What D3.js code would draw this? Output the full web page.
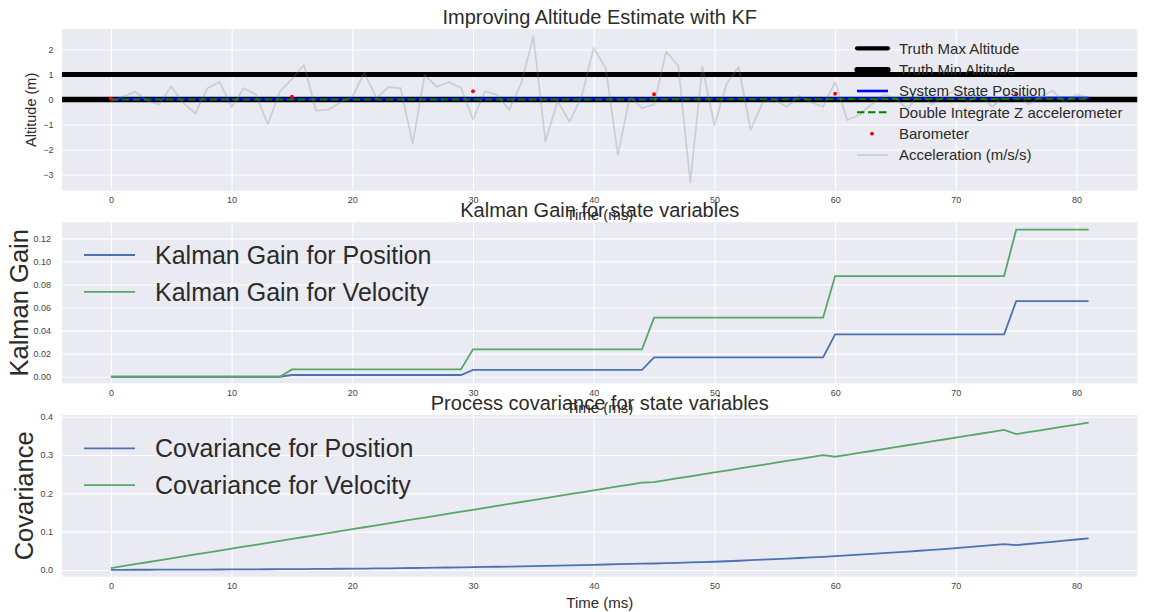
<!DOCTYPE html>
<html>
<head>
<meta charset="utf-8">
<script src="https://cdn.jsdelivr.net/npm/d3@7"></script>
<style>
  body { margin: 0; background: #ffffff; }
  svg { display: block; }
  text { font-family: "Liberation Sans", Arial, sans-serif; }
</style>
</head>
<body>
<svg id="chart" width="1152" height="612"></svg>
<script>
// ---- data ---------------------------------------------------------------
const timeMs = d3.range(0, 82);

const acceleration = [
  -0.1, 0.11, 0.31, -0.05, -0.2, 0.52, -0.14, -0.56, 0.45, 0.7,
  -0.3, 0.45, 0.2, -0.99, 0.31, 0.82, 1.38, -0.45, -0.41, -0.12,
  0.11, 1.07, 0.05, 0.5, 0.45, -1.75, 0.98, 0.51, 0.69, 0.47,
  -0.8, 0.33, 0.18, -0.42, 0.66, 2.53, -1.69, -0.06, -0.89, 0.11,
  2.06, 1.25, -2.22, 0.13, -0.35, -0.2, 1.91, 1.36, -3.32, 1.31,
  -1.04, 0.62, 1.31, -1.22, -0.12, -0.02, -0.29, 0.15, -0.11, -0.29,
  0.7, -0.82, -0.62, -0.2, 0.2, 0.05, -0.4, 0.3, -0.2, 0.1,
  0.4, -0.1, 0.2, -0.3, 0.15, 0.3, -0.2, 0.1, 0.35, -0.1,
  0.2, 0.05
];

const statePosition = [
  0.02, 0.02, 0.02, 0.02, 0.02, 0.02, 0.02, 0.02, 0.02, 0.02,
  0.02, 0.02, 0.02, 0.02, 0.02, 0.021, 0.021, 0.021, 0.021, 0.021,
  0.021, 0.021, 0.021, 0.021, 0.021, 0.021, 0.021, 0.021, 0.021, 0.021,
  0.024, 0.024, 0.024, 0.024, 0.024, 0.024, 0.024, 0.024, 0.024, 0.024,
  0.024, 0.024, 0.024, 0.024, 0.024, 0.028, 0.028, 0.028, 0.028, 0.028,
  0.028, 0.028, 0.028, 0.028, 0.028, 0.028, 0.028, 0.028, 0.028, 0.028,
  0.04, 0.04, 0.04, 0.04, 0.04, 0.04, 0.04, 0.04, 0.04, 0.04,
  0.04, 0.04, 0.04, 0.04, 0.04, 0.06, 0.06, 0.06, 0.06, 0.06,
  0.06, 0.06
];

const doubleIntegrated = [
  0.0, 0.0, 0.0, 0.0, 0.0, 0.0, 0.0, 0.0, 0.0, 0.0,
  0.0, 0.0, 0.0, 0.0, 0.0, 0.0, 0.0, 0.0, 0.0, 0.0,
  0.0, 0.0, 0.0, 0.0, 0.0, 0.0, 0.0, 0.0, 0.0, 0.0,
  0.0, 0.0, 0.0, 0.0, 0.0, 0.0, 0.0, 0.0, 0.0, 0.0,
  0.0, 0.0, 0.0, 0.0, 0.0, 0.01, 0.01, 0.01, 0.01, 0.01,
  0.01, 0.01, 0.01, 0.01, 0.01, 0.01, 0.01, 0.01, 0.01, 0.01,
  0.02, 0.02, 0.02, 0.02, 0.02, 0.02, 0.02, 0.02, 0.02, 0.02,
  0.02, 0.02, 0.02, 0.02, 0.02, 0.03, 0.03, 0.03, 0.03, 0.03,
  0.03, 0.03
];

const baroTimes = [0, 15, 30, 45, 60, 75];
const baroAltitude = [0.03, 0.11, 0.33, 0.21, 0.23, 0.21];

const truthMaxAltitude = 1;
const truthMinAltitude = 0;

const gainPosition = [
  0, 0, 0, 0, 0, 0, 0, 0, 0, 0,
  0, 0, 0, 0, 0, 0.0015, 0.0015, 0.0015, 0.0015, 0.0015,
  0.0015, 0.0015, 0.0015, 0.0015, 0.0015, 0.0015, 0.0015, 0.0015, 0.0015, 0.0015,
  0.006, 0.006, 0.006, 0.006, 0.006, 0.006, 0.006, 0.006, 0.006, 0.006,
  0.006, 0.006, 0.006, 0.006, 0.006, 0.0168, 0.0168, 0.0168, 0.0168, 0.0168,
  0.0168, 0.0168, 0.0168, 0.0168, 0.0168, 0.0168, 0.0168, 0.0168, 0.0168, 0.0168,
  0.0368, 0.0368, 0.0368, 0.0368, 0.0368, 0.0368, 0.0368, 0.0368, 0.0368, 0.0368,
  0.0368, 0.0368, 0.0368, 0.0368, 0.0368, 0.0655, 0.0655, 0.0655, 0.0655, 0.0655,
  0.0655, 0.0655
];

const gainVelocity = [
  0, 0, 0, 0, 0, 0, 0, 0, 0, 0,
  0, 0, 0, 0, 0, 0.0063, 0.0063, 0.0063, 0.0063, 0.0063,
  0.0063, 0.0063, 0.0063, 0.0063, 0.0063, 0.0063, 0.0063, 0.0063, 0.0063, 0.0063,
  0.0237, 0.0237, 0.0237, 0.0237, 0.0237, 0.0237, 0.0237, 0.0237, 0.0237, 0.0237,
  0.0237, 0.0237, 0.0237, 0.0237, 0.0237, 0.0512, 0.0512, 0.0512, 0.0512, 0.0512,
  0.0512, 0.0512, 0.0512, 0.0512, 0.0512, 0.0512, 0.0512, 0.0512, 0.0512, 0.0512,
  0.0873, 0.0873, 0.0873, 0.0873, 0.0873, 0.0873, 0.0873, 0.0873, 0.0873, 0.0873,
  0.0873, 0.0873, 0.0873, 0.0873, 0.0873, 0.1275, 0.1275, 0.1275, 0.1275, 0.1275,
  0.1275, 0.1275
];

const covPosition = [
  0.0005, 0.0005, 0.0006, 0.0007, 0.0008, 0.0009, 0.001, 0.0011, 0.0012, 0.0013,
  0.0015, 0.0016, 0.0018, 0.002, 0.0022, 0.0023, 0.0025, 0.0027, 0.003, 0.0032,
  0.0035, 0.0038, 0.0041, 0.0044, 0.0048, 0.0052, 0.0056, 0.006, 0.0065, 0.007,
  0.0074, 0.0079, 0.0084, 0.009, 0.0096, 0.0102, 0.0108, 0.0115, 0.0122, 0.0129,
  0.0136, 0.0143, 0.0151, 0.0159, 0.0167, 0.017, 0.0179, 0.0188, 0.0197, 0.0206,
  0.0215, 0.0228, 0.0241, 0.0255, 0.0269, 0.0283, 0.0298, 0.0313, 0.0328, 0.0344,
  0.036, 0.038, 0.04, 0.042, 0.044, 0.046, 0.0481, 0.0502, 0.0524, 0.0546,
  0.0569, 0.0596, 0.0623, 0.065, 0.0677, 0.065, 0.0678, 0.0707, 0.0736, 0.0766,
  0.0796, 0.0826
];

const covVelocity = [
  0.005, 0.0101, 0.0151, 0.0202, 0.0253, 0.0304, 0.0354, 0.0405, 0.0456, 0.0506,
  0.0557, 0.0608, 0.0658, 0.0709, 0.076, 0.0811, 0.0861, 0.0912, 0.0963, 0.1013,
  0.1064, 0.1115, 0.1165, 0.1216, 0.1267, 0.1318, 0.1368, 0.1419, 0.147, 0.152,
  0.1571, 0.1622, 0.1672, 0.1723, 0.1774, 0.1825, 0.1875, 0.1926, 0.1977, 0.2027,
  0.2078, 0.2129, 0.2179, 0.223, 0.2281, 0.2295, 0.2345, 0.2395, 0.2445, 0.2495,
  0.2545, 0.2595, 0.2645, 0.2695, 0.2745, 0.2795, 0.2845, 0.2895, 0.2945, 0.2995,
  0.2955, 0.3005, 0.3055, 0.3105, 0.3155, 0.3205, 0.3255, 0.3305, 0.3355, 0.3405,
  0.3455, 0.3505, 0.3555, 0.3605, 0.3655, 0.3545, 0.3595, 0.3645, 0.3695, 0.3745,
  0.3795, 0.3845
];

const timeTicks = [0, 10, 20, 30, 40, 50, 60, 70, 80];
const altitudeTicks = [-3, -2, -1, 0, 1, 2];
const gainTicks = [0, 0.02, 0.04, 0.06, 0.08, 0.10, 0.12];
const covTicks = [0, 0.1, 0.2, 0.3, 0.4];

// ---- layout -------------------------------------------------------------
const svg = d3.select("#chart");
const plotLeft = 62, plotRight = 1137.5;
const BG = "#EAEAF2";
const TICK_COLOR = "#444";
const TEXT_COLOR = "#2b2b2b";
const SEA_BLUE = "#4C72B0";
const SEA_GREEN = "#55A868";

const x = d3.scaleLinear().domain([-4.05, 85.05]).range([plotLeft, plotRight]);

function makePanel(opts) {
  const y = d3.scaleLinear().domain(opts.domain).range([opts.bottom, opts.top]);
  const g = svg.append("g");
  g.append("rect")
    .attr("x", plotLeft).attr("y", opts.top)
    .attr("width", plotRight - plotLeft).attr("height", opts.bottom - opts.top)
    .attr("fill", BG);

  // horizontal grid + y tick labels
  const yAxis = g.append("g")
    .attr("transform", `translate(${plotLeft},0)`)
    .call(d3.axisLeft(y).tickValues(opts.ticks).tickFormat(opts.format)
      .tickSize(-(plotRight - plotLeft)).tickPadding(opts.yPad));
  // vertical grid + x tick labels
  const xAxis = g.append("g")
    .attr("transform", `translate(0,${opts.bottom})`)
    .call(d3.axisBottom(x).tickValues(timeTicks).tickFormat(d3.format("d"))
      .tickSize(-(opts.bottom - opts.top)).tickPadding(6.2));
  [yAxis, xAxis].forEach(a => {
    a.select(".domain").remove();
    a.selectAll(".tick line").attr("stroke", "#ffffff").attr("stroke-width", 1.1);
    a.selectAll(".tick text").attr("fill", TICK_COLOR)
      .attr("font-size", 9)
      .attr("font-family", '"Liberation Sans", Arial, sans-serif');
  });

  // title
  svg.append("text")
    .attr("x", (plotLeft + plotRight) / 2).attr("y", opts.titleY)
    .attr("text-anchor", "middle").attr("font-size", 20)
    .attr("fill", TEXT_COLOR).text(opts.title);
  // x label
  svg.append("text")
    .attr("x", (plotLeft + plotRight) / 2).attr("y", opts.xLabelY)
    .attr("text-anchor", "middle").attr("font-size", 15)
    .attr("fill", TEXT_COLOR).text("Time (ms)");
  // y label
  svg.append("text")
    .attr("transform", `translate(${opts.yLabelX},${(opts.top + opts.bottom) / 2}) rotate(-90)`)
    .attr("text-anchor", "middle").attr("font-size", opts.yLabelSize)
    .attr("fill", TEXT_COLOR).text(opts.yLabel);

  const clip = "clip" + Math.round(opts.top);
  svg.append("clipPath").attr("id", clip).append("rect")
    .attr("x", plotLeft).attr("y", opts.top)
    .attr("width", plotRight - plotLeft).attr("height", opts.bottom - opts.top);
  const marks = svg.append("g").attr("clip-path", `url(#${clip})`);
  return { y, marks };
}

function series(values) {
  return timeMs.map((t, i) => [t, values[i]]);
}

// ---- panel 1 : altitude -------------------------------------------------
const p1 = makePanel({
  top: 29, bottom: 190.7, domain: [-3.65, 2.82], ticks: altitudeTicks,
  format: d => d < 0 ? "\u2212" + Math.abs(d) : String(d), yPad: 8.5,
  title: "Improving Altitude Estimate with KF", titleY: 23.5,
  xLabelY: 219.5, yLabel: "Altitude (m)", yLabelX: 36, yLabelSize: 14.5
});
{
  const y = p1.y, m = p1.marks;
  const line = d3.line().x(d => x(d[0])).y(d => y(d[1]));
  m.append("line").attr("x1", plotLeft).attr("x2", plotRight)
    .attr("y1", y(truthMaxAltitude)).attr("y2", y(truthMaxAltitude))
    .attr("stroke", "#000").attr("stroke-width", 4.8);
  m.append("line").attr("x1", plotLeft).attr("x2", plotRight)
    .attr("y1", y(truthMinAltitude)).attr("y2", y(truthMinAltitude))
    .attr("stroke", "#000").attr("stroke-width", 5.5);
  m.append("path").datum(series(statePosition)).attr("d", line)
    .attr("fill", "none").attr("stroke", "#0000ff").attr("stroke-width", 2.6);
  m.append("path").datum(series(doubleIntegrated)).attr("d", line)
    .attr("fill", "none").attr("stroke", "#008000").attr("stroke-width", 2)
    .attr("stroke-dasharray", "7.4,3.6");
  m.selectAll("circle.baro").data(baroTimes).join("circle")
    .attr("cx", d => x(d)).attr("cy", (d, i) => y(baroAltitude[i]))
    .attr("r", 1.9).attr("fill", "#ff0000");
  m.append("path").datum(series(acceleration)).attr("d", line)
    .attr("fill", "none").attr("stroke", "#808080").attr("stroke-opacity", 0.27)
    .attr("stroke-width", 1.8).attr("stroke-linejoin", "round");

  // legend
  const lg = svg.append("g");
  const items = [
    { label: "Truth Max Altitude", kind: "line", color: "#000", w: 4.2 },
    { label: "Truth Min Altitude", kind: "line", color: "#000", w: 5.2 },
    { label: "System State Position", kind: "line", color: "#0000ff", w: 2.6 },
    { label: "Double Integrate Z accelerometer", kind: "dash", color: "#008000", w: 2 },
    { label: "Barometer", kind: "dot", color: "#ff0000" },
    { label: "Acceleration (m/s/s)", kind: "line", color: "rgba(128,128,128,0.27)", w: 1.8 }
  ];
  items.forEach((it, i) => {
    const cy = 48.3 + i * 21.35;
    if (it.kind === "dot") {
      lg.append("circle").attr("cx", 872).attr("cy", cy).attr("r", 1.9).attr("fill", it.color);
    } else {
      lg.append("line").attr("x1", 857).attr("x2", 888).attr("y1", cy).attr("y2", cy)
        .attr("stroke", it.color).attr("stroke-width", it.w)
        .attr("stroke-linecap", it.w > 4 ? "round" : "butt")
        .attr("stroke-dasharray", it.kind === "dash" ? "7.4,3.6" : null);
    }
    lg.append("text").attr("x", 899).attr("y", cy + 5.3)
      .attr("font-size", 15).attr("fill", TEXT_COLOR).text(it.label);
  });
}

// ---- panel 2 : Kalman gain ---------------------------------------------
const p2 = makePanel({
  top: 222.3, bottom: 383.3, domain: [-0.0057, 0.1339], ticks: gainTicks,
  format: d3.format(".2f"), yPad: 11,
  title: "Kalman Gain for state variables", titleY: 217,
  xLabelY: 412.5, yLabel: "Kalman Gain", yLabelX: 27.5, yLabelSize: 25.5
});
// ---- panel 3 : covariance ----------------------------------------------
const p3 = makePanel({
  top: 415, bottom: 576.7, domain: [-0.0175, 0.4044], ticks: covTicks,
  format: d3.format(".1f"), yPad: 9,
  title: "Process covariance for state variables", titleY: 410,
  xLabelY: 608, yLabel: "Covariance", yLabelX: 33, yLabelSize: 25.5
});

function drawPair(panel, a, b, labels, legendY) {
  const line = d3.line().x(d => x(d[0])).y(d => panel.y(d[1]));
  panel.marks.append("path").datum(series(a)).attr("d", line)
    .attr("fill", "none").attr("stroke", SEA_BLUE).attr("stroke-width", 1.8);
  panel.marks.append("path").datum(series(b)).attr("d", line)
    .attr("fill", "none").attr("stroke", SEA_GREEN).attr("stroke-width", 1.8);
  const lg = svg.append("g");
  [SEA_BLUE, SEA_GREEN].forEach((c, i) => {
    const cy = legendY + i * 36.8;
    lg.append("line").attr("x1", 84).attr("x2", 135).attr("y1", cy).attr("y2", cy)
      .attr("stroke", c).attr("stroke-width", 1.8);
    lg.append("text").attr("x", 155).attr("y", cy + 8.8)
      .attr("font-size", 25).attr("fill", TEXT_COLOR).text(labels[i]);
  });
}

drawPair(p2, gainPosition, gainVelocity,
  ["Kalman Gain for Position", "Kalman Gain for Velocity"], 255);
drawPair(p3, covPosition, covVelocity,
  ["Covariance for Position", "Covariance for Velocity"], 448.3);
</script>
</body>
</html>
